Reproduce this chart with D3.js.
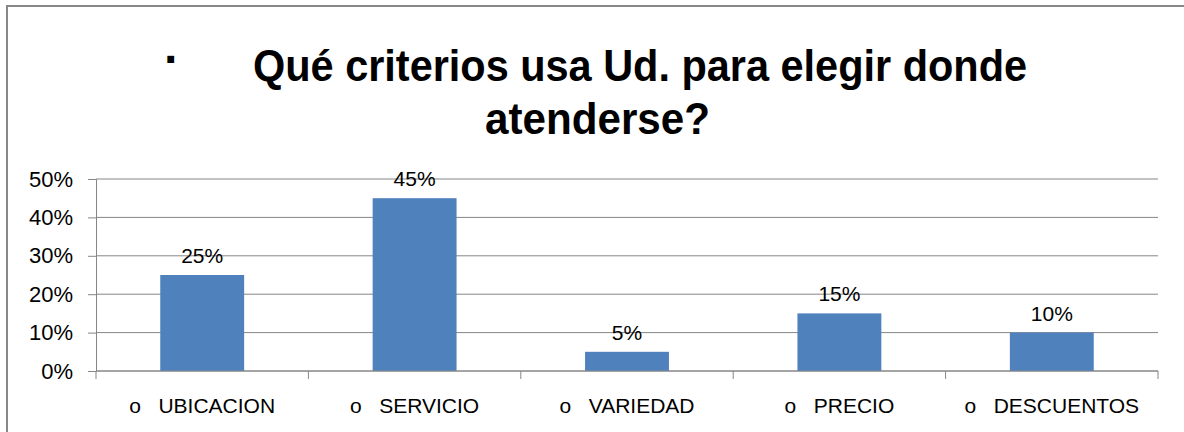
<!DOCTYPE html>
<html>
<head>
<meta charset="utf-8">
<script src="https://cdn.jsdelivr.net/npm/d3@7"></script>
<style>
  body { margin: 0; background: #fff; }
  text { font-family: "Liberation Sans", Arial, sans-serif; fill: #000; }
</style>
</head>
<body>
<div id="chart"></div>
<script>
// data
var categories = ["UBICACION", "SERVICIO", "VARIEDAD", "PRECIO", "DESCUENTOS"];
var values = [0.25, 0.45, 0.05, 0.15, 0.10];
var yTicks = [0, 0.1, 0.2, 0.3, 0.4, 0.5];
var titleLines = ["Qué criterios usa Ud. para elegir donde", "atenderse?"];

var svgW = 1184, svgH = 432;
var margin = {top: 179, left: 96, right: 26, bottom: 61};
var chartW = svgW - margin.left - margin.right;
var chartH = svgH - margin.top - margin.bottom;

var svg = d3.select('#chart').append('svg')
    .attr('width', svgW)
    .attr('height', svgH);

// outer frame (runs off the right and bottom edge)
svg.append('rect')
    .attr('x', 7).attr('y', 6)
    .attr('width', svgW + 10).attr('height', svgH + 10)
    .attr('fill', 'none')
    .attr('stroke', '#888')
    .attr('stroke-width', 2);

// title
svg.append('text')
    .attr('x', 172).attr('y', 76)
    .attr('text-anchor', 'middle')
    .attr('font-size', 48).attr('font-weight', 'bold')
    .text('·');
svg.append('text')
    .attr('x', 253).attr('y', 81)
    .attr('font-size', 44).attr('font-weight', 'bold')
    .attr('textLength', 774).attr('lengthAdjust', 'spacingAndGlyphs')
    .text(titleLines[0]);
svg.append('text')
    .attr('x', 485).attr('y', 134)
    .attr('font-size', 44).attr('font-weight', 'bold')
    .attr('textLength', 225).attr('lengthAdjust', 'spacingAndGlyphs')
    .text(titleLines[1]);

var chart = svg.append('g')
    .attr('transform', `translate(${margin.left},${margin.top})`);

var x = d3.scaleBand()
    .domain(categories)
    .range([0, chartW])
    .paddingInner(0.605)
    .paddingOuter(0.3025);

var y = d3.scaleLinear()
    .domain([0, 0.5])
    .range([chartH, 0]);

// gridlines
chart.selectAll('.grid')
    .data(yTicks)
    .enter()
    .append('line')
    .attr('x1', 0).attr('x2', chartW)
    .attr('y1', d => y(d)).attr('y2', d => y(d))
    .attr('stroke', '#868686').attr('stroke-width', 1);

// y axis
var yAxis = chart.append('g')
    .call(d3.axisLeft(y).tickValues(yTicks).tickFormat(d3.format('.0%')).tickSize(8).tickPadding(15));
yAxis.select('.domain').attr('stroke', '#868686');
yAxis.selectAll('.tick line').attr('stroke', '#868686');
yAxis.selectAll('text').attr('font-size', 22).attr('fill', '#222')
    .style('font-family', '"Liberation Sans", Arial, sans-serif');

// bars
chart.selectAll('.bar')
    .data(values)
    .enter()
    .append('rect')
    .attr('x', (d, i) => x(categories[i]))
    .attr('y', d => y(d))
    .attr('width', x.bandwidth())
    .attr('height', d => chartH - y(d))
    .attr('fill', '#4F81BD');

// value labels
chart.selectAll('.lbl')
    .data(values)
    .enter()
    .append('text')
    .attr('x', (d, i) => x(categories[i]) + x.bandwidth() / 2)
    .attr('y', d => y(d) - 12)
    .attr('text-anchor', 'middle')
    .attr('font-size', 21)
    .attr('fill', '#222')
    .text(d => d3.format('.0%')(d));

// x axis: category boundaries as ticks
var step = x.step();
chart.append('line')
    .attr('x1', 0).attr('x2', chartW)
    .attr('y1', chartH).attr('y2', chartH)
    .attr('stroke', '#868686');
chart.selectAll('.xtick')
    .data(d3.range(categories.length + 1))
    .enter()
    .append('line')
    .attr('x1', d => d * step).attr('x2', d => d * step)
    .attr('y1', chartH).attr('y2', chartH + 8)
    .attr('stroke', '#868686');

chart.selectAll('.xlbl')
    .data(categories)
    .enter()
    .append('text')
    .attr('x', d => x(d) + x.bandwidth() / 2)
    .attr('y', chartH + 42)
    .attr('text-anchor', 'middle')
    .attr('font-size', 21)
    .attr('fill', '#222')
    .attr('xml:space', 'preserve')
    .text(d => 'o   ' + d);
</script>
</body>
</html>
